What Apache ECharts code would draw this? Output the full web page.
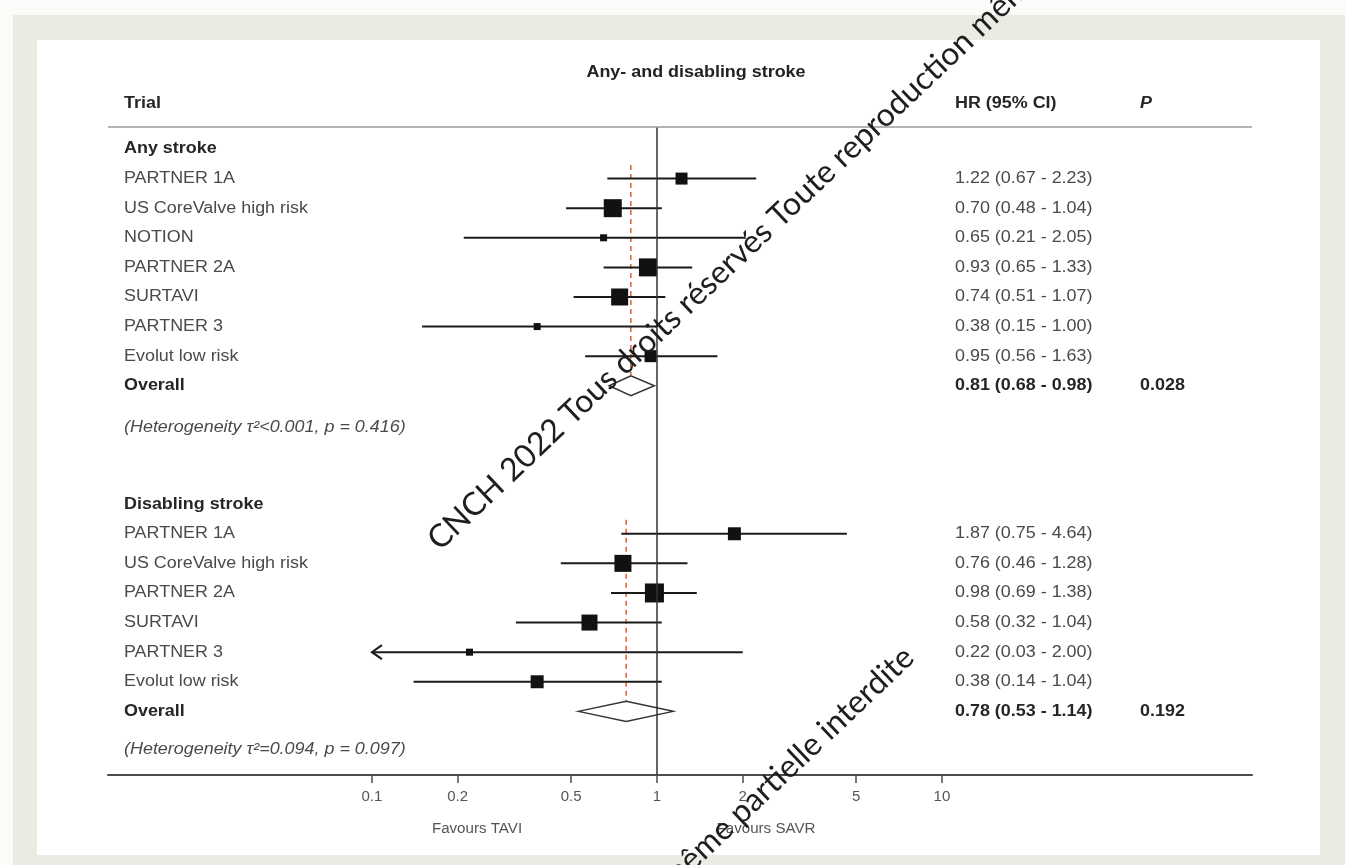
<!DOCTYPE html>
<html>
<head>
<meta charset="utf-8">
<script src="https://cdn.jsdelivr.net/npm/echarts@6/dist/echarts.min.js"></script>
<style>
  html, body { margin: 0; padding: 0; background: #fbfbf9; }
  #chart { width: 1345px; height: 865px; }
</style>
</head>
<body>
<div id="chart"></div>
<script>
// ---- data ----
const anyTrials = ['PARTNER 1A', 'US CoreValve high risk', 'NOTION', 'PARTNER 2A', 'SURTAVI', 'PARTNER 3', 'Evolut low risk']
const anyHR   = [1.22, 0.70, 0.65, 0.93, 0.74, 0.38, 0.95]
const anyLow  = [0.67, 0.48, 0.21, 0.65, 0.51, 0.15, 0.56]
const anyHigh = [2.23, 1.04, 2.05, 1.33, 1.07, 1.00, 1.63]
const anyWeight = [11.1, 25.0, 3.8, 25.0, 22.3, 3.8, 11.1]   // box weight (%)
const anyOverall = [0.81, 0.68, 0.98]
const anyP = '0.028'
const anyHet = '(Heterogeneity τ²<0.001, p = 0.416)'

const disTrials = ['PARTNER 1A', 'US CoreValve high risk', 'PARTNER 2A', 'SURTAVI', 'PARTNER 3', 'Evolut low risk']
const disHR   = [1.87, 0.76, 0.98, 0.58, 0.22, 0.38]
const disLow  = [0.75, 0.46, 0.69, 0.32, 0.03, 0.14]
const disHigh = [4.64, 1.28, 1.38, 1.04, 2.00, 1.04]
const disWeight = [13.0, 22.3, 27.9, 19.8, 3.8, 13.0]
const disOverall = [0.78, 0.53, 1.14]
const disP = '0.192'
const disHet = '(Heterogeneity τ²=0.094, p = 0.097)'

const tickValues = [0.1, 0.2, 0.5, 1, 2, 5, 10]
const clipLow = 0.1   // CI drawn with an arrow below this

// ---- helpers ----
const FONT = "'Liberation Sans', Arial, sans-serif"
const lg = v => Math.log10(v)
const f2 = v => v.toFixed(2)
const fmtCI = (hr, lo, hi) => `${f2(hr)} (${f2(lo)} - ${f2(hi)})`
const boxSize = w => 3.6 * Math.sqrt(w)

// rows: 0 = "Any stroke" header, 12 = "Disabling stroke" header
const ciData = []
anyTrials.forEach((t, i) => {
  ciData.push([lg(Math.max(anyLow[i], clipLow)), lg(anyHigh[i]), lg(anyHR[i]), 1 + i, boxSize(anyWeight[i]), anyLow[i] < clipLow ? 1 : 0])
})
disTrials.forEach((t, i) => {
  ciData.push([lg(Math.max(disLow[i], clipLow)), lg(disHigh[i]), lg(disHR[i]), 13 + i, boxSize(disWeight[i]), disLow[i] < clipLow ? 1 : 0])
})

const diamondData = [
  [lg(anyOverall[1]), lg(anyOverall[0]), lg(anyOverall[2]), 8],
  [lg(disOverall[1]), lg(disOverall[0]), lg(disOverall[2]), 19]
]
const refData = [
  [lg(anyOverall[0]), 0.54, 8 - 0.36],
  [lg(disOverall[0]), 12.53, 19 - 0.36]
]

const tableRows = []
tableRows.push({ row: -1.52, cells: [['Trial', 0, 'bold', 'normal'], ['HR (95% CI)', 1, 'bold', 'normal'], ['P', 2, 'bold', 'italic']] })
tableRows.push({ row: 0, cells: [['Any stroke', 0, 'bold', 'normal']] })
anyTrials.forEach((t, i) => tableRows.push({ row: 1 + i, cells: [[t, 0, 'normal', 'normal'], [fmtCI(anyHR[i], anyLow[i], anyHigh[i]), 1, 'normal', 'normal']] }))
tableRows.push({ row: 8, cells: [['Overall', 0, 'bold', 'normal'], [fmtCI(...anyOverall), 1, 'bold', 'normal'], [anyP, 2, 'bold', 'normal']] })
tableRows.push({ row: 9.4, cells: [[anyHet, 0, 'normal', 'italic']] })
tableRows.push({ row: 12, cells: [['Disabling stroke', 0, 'bold', 'normal']] })
disTrials.forEach((t, i) => tableRows.push({ row: 13 + i, cells: [[t, 0, 'normal', 'normal'], [fmtCI(disHR[i], disLow[i], disHigh[i]), 1, 'normal', 'normal']] }))
tableRows.push({ row: 19, cells: [['Overall', 0, 'bold', 'normal'], [fmtCI(...disOverall), 1, 'bold', 'normal'], [disP, 2, 'bold', 'normal']] })
tableRows.push({ row: 20.3, cells: [[disHet, 0, 'normal', 'italic']] })

const colX = [16, 847, 1032]
const tickLog = tickValues.map(lg)
const watermark = 'CNCH 2022 Tous droits réservés Toute reproduction même partielle interdite'

const chart = echarts.init(document.getElementById('chart'))

chart.setOption({
  animation: false,
  backgroundColor: '#fbfbf9',
  grid: { left: 108, right: 93, top: 127, bottom: 90 },
  xAxis: {
    type: 'value',
    min: -1.926,
    max: 2.088,
    axisLine: { show: true, onZero: false, lineStyle: { color: '#4d4d4d', width: 2 } },
    axisTick: { show: true, customValues: tickLog, length: 8, lineStyle: { color: '#4d4d4d', width: 1.5 } },
    axisLabel: {
      customValues: tickLog,
      formatter: v => String(+Math.pow(10, v).toPrecision(3)),
      color: '#555', fontSize: 15, margin: 14, fontFamily: FONT
    },
    splitLine: { show: false }
  },
  yAxis: { type: 'value', inverse: true, min: -0.743, max: 21.15, show: false },
  graphic: [
    { type: 'rect', z: -10, shape: { x: 13, y: 15, width: 1332, height: 850 }, style: { fill: '#ecebe3' } },
    { type: 'rect', z: -9, shape: { x: 37, y: 40, width: 1283, height: 815 }, style: { fill: '#ffffff' } },
    { type: 'text', x: 696, y: 73, scaleX: 1.12,
      style: { text: 'Any- and disabling stroke', fill: '#222', fontSize: 16, fontWeight: 'bold', fontFamily: FONT,
               align: 'center', verticalAlign: 'middle', textAlign: 'center', textVerticalAlign: 'middle' } },
    { type: 'text', x: 477, y: 829, scaleX: 1.08,
      style: { text: 'Favours TAVI', fill: '#555', fontSize: 14, fontFamily: FONT,
               align: 'center', verticalAlign: 'middle', textAlign: 'center', textVerticalAlign: 'middle' } },
    { type: 'text', x: 766, y: 829, scaleX: 1.08,
      style: { text: 'Favours SAVR', fill: '#555', fontSize: 14, fontFamily: FONT,
               align: 'center', verticalAlign: 'middle', textAlign: 'center', textVerticalAlign: 'middle' } },
    { type: 'text', z: 100, x: 444, y: 556, rotation: 43.5 * Math.PI / 180,
      style: { text: watermark, fill: '#1e1e1e', fontSize: 32, fontFamily: 'Lato, sans-serif',
               align: 'left', verticalAlign: 'bottom', textAlign: 'left', textVerticalAlign: 'bottom' } },
    { type: 'text', z: 100, x: 920, y: 664, rotation: 43.5 * Math.PI / 180,
      style: { text: watermark, fill: '#1e1e1e', fontSize: 32, fontFamily: 'Lato, sans-serif',
               align: 'right', verticalAlign: 'bottom', textAlign: 'right', textVerticalAlign: 'bottom' } }
  ],
  series: [
    {
      // table text + header rule + HR = 1 line
      type: 'custom',
      clip: false,
      data: tableRows.map(r => [0, r.row]),
      encode: { x: 0, y: 1 },
      renderItem: (params, api) => {
        const r = tableRows[params.dataIndex]
        const y = api.coord([0, r.row])[1]
        const x0 = params.coordSys.x
        return {
          type: 'group',
          children: r.cells.map(([text, col, weight, style]) => ({
            type: 'text',
            x: x0 + colX[col],
            y,
            scaleX: 1.12,
            style: {
              text, x: 0, y: 0,
              fill: weight === 'bold' ? '#262626' : '#4a4a4a',
              fontSize: 16, fontWeight: weight, fontStyle: style, fontFamily: FONT,
              align: 'left', verticalAlign: 'middle', textAlign: 'left', textVerticalAlign: 'middle'
            }
          }))
        }
      },
      markLine: {
        silent: true,
        symbol: 'none',
        label: { show: false },
        data: [
          { xAxis: 0, lineStyle: { color: '#333', width: 1.5, type: 'solid' } },
          { yAxis: -0.743, lineStyle: { color: '#9a9a9a', width: 1.5, type: 'solid' } }
        ]
      }
    },
    {
      // dashed reference line at the pooled estimate
      type: 'custom',
      clip: false,
      data: refData,
      encode: { x: 0, y: [1, 2] },
      renderItem: (params, api) => {
        const a = api.coord([api.value(0), api.value(1)])
        const b = api.coord([api.value(0), api.value(2)])
        return {
          type: 'line',
          shape: { x1: a[0], y1: a[1], x2: b[0], y2: b[1] },
          style: { stroke: '#e2683f', lineWidth: 1.6, lineDash: [5, 4] }
        }
      }
    },
    {
      // trial CIs and boxes
      type: 'custom',
      clip: false,
      data: ciData,
      encode: { x: [0, 1, 2], y: 3 },
      renderItem: (params, api) => {
        const row = api.value(3)
        const lo = api.coord([api.value(0), row])
        const hi = api.coord([api.value(1), row])
        const c = api.coord([api.value(2), row])
        const s = api.value(4)
        const children = [
          { type: 'line', shape: { x1: lo[0], y1: lo[1], x2: hi[0], y2: hi[1] }, style: { stroke: '#1a1a1a', lineWidth: 2 } },
          { type: 'rect', shape: { x: c[0] - s / 2, y: c[1] - s / 2, width: s, height: s }, style: { fill: '#111' } }
        ]
        if (api.value(5)) {
          children.push({
            type: 'polyline',
            shape: { points: [[lo[0] + 10, lo[1] - 7], [lo[0], lo[1]], [lo[0] + 10, lo[1] + 7]] },
            style: { stroke: '#1a1a1a', lineWidth: 2, fill: null }
          })
        }
        return { type: 'group', children }
      }
    },
    {
      // pooled diamonds
      type: 'custom',
      clip: false,
      data: diamondData,
      encode: { x: [0, 1, 2], y: 3 },
      renderItem: (params, api) => {
        const row = api.value(3)
        const lo = api.coord([api.value(0), row])
        const c = api.coord([api.value(1), row])
        const hi = api.coord([api.value(2), row])
        return {
          type: 'polygon',
          shape: { points: [[lo[0], lo[1]], [c[0], c[1] - 10], [hi[0], hi[1]], [c[0], c[1] + 10]] },
          style: { fill: '#fff', stroke: '#333', lineWidth: 1.5 }
        }
      }
    }
  ]
})
</script>
</body>
</html>
